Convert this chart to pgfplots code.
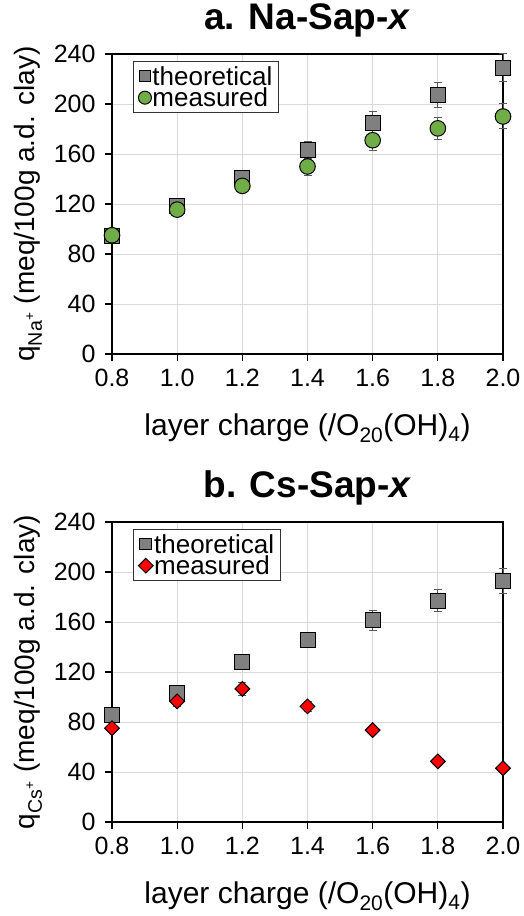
\documentclass[border=0pt]{standalone}
\usepackage{pgfplots}
\pgfplotsset{compat=1.18}
\usepackage{pgfplotstable}
\usepackage{fontspec}
\setmainfont{Liberation Sans}
\definecolor{gfill}{RGB}{128,128,128}
\definecolor{grn}{RGB}{112,173,71}
\definecolor{gridc}{RGB}{217,217,217}
\definecolor{errc}{RGB}{89,89,89}

\pgfplotstableread{
x y e
0.8 94.5 3.5
1.0 118.5 4
1.2 141 5
1.4 163 7
1.6 185 9
1.8 207.5 10
2.0 229 11
}\naTheo
\pgfplotstableread{
x y e
0.8 95 3
1.0 115.5 3.5
1.2 134.5 5
1.4 150 7
1.6 171 8.5
1.8 180.5 9
2.0 190 10
}\naMeas
\pgfplotstableread{
x y e
0.8 85.5 3.5
1.0 103.5 4
1.2 128 5
1.4 145.5 6
1.6 161.5 8
1.8 177 9
2.0 192.5 10
}\csTheo
\pgfplotstableread{
x y e
0.8 75 3
1.0 96.5 4
1.2 106.5 5
1.4 92.5 4
1.6 73.5 3
1.8 48.5 2
2.0 43 2
}\csMeas

\pgfplotsset{
 panel/.style={
  scale only axis, width=391pt, height=300pt,
  xmin=0.8, xmax=2.0, ymin=0, ymax=240,
  xtick={0.8,1.0,1.2,1.4,1.6,1.8,2.0}, ytick={0,40,80,120,160,200,240},
  grid=major, grid style={gridc, line width=0.9pt},
  axis line style={black, line width=1.3pt},
  tick align=outside, major tick length=7pt, tick style={black,line width=1.3pt},
  xtick pos=bottom, ytick pos=left,
  clip=false,
  /pgf/number format/assume math mode=true,
  ticklabel style={font=\fontsize{25}{28}\selectfont},
  xticklabel style={yshift=-5pt},
  yticklabel style={xshift=-6pt},
  xticklabel={\pgfmathprintnumber[fixed,fixed zerofill,precision=1,assume math mode=true]{\tick}},
  xlabel style={at={(axis description cs:0.5,-0.2733)}, anchor=base, font=\fontsize{30}{32}\selectfont},
  ylabel style={at={(axis description cs:-0.197,0.5)}, anchor=base, font=\fontsize{28}{30}\selectfont},
  title style={at={(axis description cs:0.5,1.0633)}, anchor=base, font=\fontsize{37}{40}\selectfont\bfseries},
  legend style={at={(axis description cs:0.0537,0.9767)}, anchor=north west, draw=black!80, line width=0.9pt,
    font=\fontsize{26}{27}\selectfont, inner xsep=5pt, inner ysep=4pt, row sep=0pt,
    nodes={text height=19pt, text depth=0.5pt, inner sep=1pt}},
  legend cell align=left,
  xlabel={layer charge (/O\textsubscript{20}(OH)\textsubscript{4})},
 },
 errs/.style={
   error bars/.cd, y dir=both, y explicit,
   error bar style={errc, line width=1pt},
   error mark options={rotate=90, errc, mark size=4pt, line width=1pt}},
}

\begin{document}
\begin{tikzpicture}[x=1pt,y=1pt]
\useasboundingbox (0,0) rectangle (524,916);
\begin{axis}[panel, at={(112pt,562pt)}, anchor=south west,
  title={a. Na-Sap-\textit{x}},
  ylabel={q\textsubscript{Na\textsuperscript{+}} (meq/100g a.d. clay)}]
\addplot[only marks, mark=square*, mark size=7.5pt, mark options={fill=gfill, draw=black, line width=1pt},
  legend image code/.code={\draw[mark=square*, mark size=5.8pt, mark options={fill=gfill, draw=black, line width=1pt}] plot coordinates {(7pt,0pt)};},
  errs] table[x=x,y=y,y error=e] {\naTheo};
\addlegendentry{theoretical}
\addplot[only marks, mark=*, mark size=7.8pt, mark options={fill=grn, draw=black, line width=1pt},
  legend image code/.code={\draw[mark=*, mark size=6.5pt, mark options={fill=grn, draw=black, line width=1pt}] plot coordinates {(7pt,0pt)};},
  errs] table[x=x,y=y,y error=e] {\naMeas};
\addlegendentry{measured}
\end{axis}
\begin{axis}[panel, at={(112pt,94pt)}, anchor=south west,
  title={b. Cs-Sap-\textit{x}},
  ylabel={q\textsubscript{Cs\textsuperscript{+}} (meq/100g a.d. clay)}]
\addplot[only marks, mark=square*, mark size=7.5pt, mark options={fill=gfill, draw=black, line width=1pt},
  legend image code/.code={\draw[mark=square*, mark size=5.8pt, mark options={fill=gfill, draw=black, line width=1pt}] plot coordinates {(7pt,0pt)};},
  errs] table[x=x,y=y,y error=e] {\csTheo};
\addlegendentry{theoretical}
\addplot[only marks, mark=square*, mark size=5.2pt, mark options={rotate=45, fill=red, draw=black, line width=1pt},
  legend image code/.code={\draw[mark=square*, mark size=5.2pt, mark options={rotate=45, fill=red, draw=black, line width=1pt}] plot coordinates {(7pt,0pt)};},
  errs] table[x=x,y=y,y error=e] {\csMeas};
\addlegendentry{measured}
\end{axis}
\end{tikzpicture}
\end{document}
